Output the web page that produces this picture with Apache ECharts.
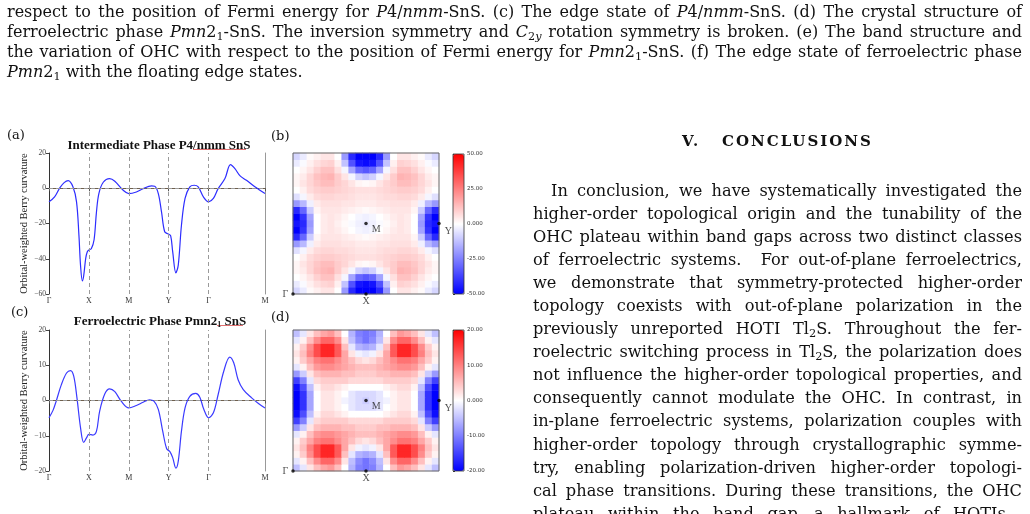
<!DOCTYPE html>
<html>
<head>
<meta charset="utf-8">
<script src="https://cdn.jsdelivr.net/npm/echarts@6/dist/echarts.min.js"></script>
<style>
body{margin:0;background:#fff;}
#page{position:relative;width:1030px;height:514px;overflow:hidden;}
#fig{position:absolute;left:0;top:0;width:1030px;height:514px;}
.cap{position:absolute;left:7px;top:2px;width:1015px;font-family:'DejaVu Serif';font-size:16px;line-height:20px;color:#111;}
.col{position:absolute;left:533px;top:178.5px;width:489px;font-family:'DejaVu Serif';font-size:16.2px;line-height:23.1px;color:#111;}
.cap div,.col div{white-space:nowrap;text-align:justify;text-align-last:justify;}
.cap div.last{text-align-last:left;}
.head{position:absolute;left:533px;top:131px;width:489px;text-align:center;font-family:'DejaVu Serif';font-weight:bold;font-size:15px;letter-spacing:2px;line-height:20px;color:#111;}
sub{font-size:70%;line-height:0;vertical-align:-0.25em;}
</style>
</head>
<body>
<div id="page">
  <div id="fig"></div>
  <div class="cap">
    <div>respect to the position of Fermi energy for <i>P</i>4/<i>nmm</i>-SnS. (c) The edge state of <i>P</i>4/<i>nmm</i>-SnS. (d) The crystal structure of</div>
    <div>ferroelectric phase <i>Pmn</i>2<sub>1</sub>-SnS. The inversion symmetry and <i>C</i><sub>2<i>y</i></sub> rotation symmetry is broken. (e) The band structure and</div>
    <div>the variation of OHC with respect to the position of Fermi energy for <i>Pmn</i>2<sub>1</sub>-SnS. (f) The edge state of ferroelectric phase</div>
    <div class="last"><i>Pmn</i>2<sub>1</sub> with the floating edge states.</div>
  </div>
  <div class="head">V.&nbsp;&nbsp;&nbsp;CONCLUSIONS</div>
  <div class="col">
    <div style="padding-left:18px">In conclusion, we have systematically investigated the</div>
    <div>higher-order topological origin and the tunability of the</div>
    <div>OHC plateau within band gaps across two distinct classes</div>
    <div>of ferroelectric systems.&nbsp; For out-of-plane ferroelectrics,</div>
    <div>we demonstrate that symmetry-protected higher-order</div>
    <div>topology coexists with out-of-plane polarization in the</div>
    <div>previously unreported HOTI Tl<sub>2</sub>S. Throughout the fer-</div>
    <div>roelectric switching process in Tl<sub>2</sub>S, the polarization does</div>
    <div>not influence the higher-order topological properties, and</div>
    <div>consequently cannot modulate the OHC. In contrast, in</div>
    <div>in-plane ferroelectric systems, polarization couples with</div>
    <div>higher-order topology through crystallographic symme-</div>
    <div>try, enabling polarization-driven higher-order topologi-</div>
    <div>cal phase transitions. During these transitions, the OHC</div>
    <div>plateau within the band gap—a hallmark of HOTIs—</div>
  </div>
</div>
<script>
// k-path: Γ-X-M-Y-Γ-M
const kLabels = ['Γ', 'X', 'M', 'Y', 'Γ', 'M'];
const kPos = [0, 1, 2, 3, 4, 5.414];

// (a) Intermediate phase P4/nmm
const kA = [0, 0.14, 0.27, 0.38, 0.48, 0.6, 0.69, 0.75, 0.79, 0.837, 0.87, 0.92, 0.96, 1.0, 1.06, 1.13, 1.19, 1.25, 1.36, 1.52, 1.65, 1.86, 2.0, 2.19, 2.36, 2.57, 2.65, 2.74, 2.82, 2.9, 2.99, 3.05, 3.1, 3.18, 3.24, 3.32, 3.41, 3.53, 3.64, 3.74, 3.87, 4.0, 4.12, 4.24, 4.41, 4.55, 4.66, 4.79, 4.95, 5.16, 5.414];
const bcA = [-7.7, -4.9, 0.2, 3.2, 4.3, 0.8, -7.7, -26.6, -43.6, -52.6, -49.6, -39.8, -36, -35, -34.3, -29.2, -13.4, -3, 3.4, 5.5, 4, -1.1, -3, -2.1, -0.2, 1.3, 1.1, -3, -13.4, -24.7, -26, -27, -36, -48, -43.6, -21, -5.8, 0.8, 1.7, 0.8, -4.9, -7.7, -5.8, -0.2, 5.5, 13.4, 11.1, 7, 4.5, 0.8, -3];

// (c) Ferroelectric phase Pmn2_1
const kC = [0, 0.1, 0.18, 0.31, 0.44, 0.54, 0.62, 0.70, 0.79, 0.87, 0.94, 1.0, 1.1, 1.19, 1.27, 1.4, 1.52, 1.65, 1.81, 2.0, 2.19, 2.36, 2.52, 2.63, 2.74, 2.85, 2.95, 3.03, 3.1, 3.18, 3.24, 3.32, 3.41, 3.53, 3.68, 3.78, 3.88, 4.0, 4.12, 4.24, 4.38, 4.53, 4.63, 4.74, 4.87, 5.08, 5.25, 5.414];
const bcC = [-4.9, -2.8, -0.2, 4.5, 7.8, 8.5, 6.9, 0.8, -7.7, -11.9, -10.6, -9.6, -9.8, -8.7, -3, 1.9, 3.3, 2.5, -0.2, -2.1, -1.4, -0.5, 0.2, -0.2, -2.5, -8.7, -13.7, -14.5, -16.2, -19.2, -17.2, -8.7, -2.1, 1.2, 2.0, 0.9, -2.5, -4.9, -3.5, 1.7, 8.3, 12.3, 10.7, 5.9, 3.1, 0.75, -0.85, -2.1];

// (b) Berry curvature map, rows bottom (Γ-X edge) to top
const fieldB = [
  [-8,-4,1,3,5,5,0,-20,-42,-50,-50,-50,-42,-20,0,5,5,3,1,-4,-8],
  [-4,-1,3,6,8,9,3,-12,-34,-46,-48,-46,-34,-12,3,9,8,6,3,-1,-4],
  [0,2,5,9,12,12,6,-2,-18,-30,-33,-30,-18,-2,6,12,12,9,5,2,0],
  [2,4,8,12,14,15,10,5,-2,-9,-12,-9,-2,5,10,15,14,12,8,4,2],
  [2,5,8,11,13,13,10,8,5,2,1,2,5,8,10,13,13,11,8,5,2],
  [0,3,7,9,10,10,9,8,7,6,6,6,7,8,9,10,10,9,7,3,0],
  [-6,-2,4,7,8,8,7,7,6,5,5,5,6,7,7,8,8,7,4,-2,-6],
  [-20,-14,-3,4,6,6,6,5,5,4,4,4,5,5,6,6,6,4,-3,-14,-20],
  [-42,-30,-10,2,5,5,5,4,3,2,1,2,3,4,5,5,5,2,-10,-30,-42],
  [-50,-40,-18,0,4,5,4,2,0,-2,-3,-2,0,2,4,5,4,0,-18,-40,-50],
  [-46,-42,-20,0,4,5,3,1,-1,-3,-4,-3,-1,1,3,5,4,0,-20,-42,-46],
  [-50,-40,-18,0,4,5,4,2,0,-2,-3,-2,0,2,4,5,4,0,-18,-40,-50],
  [-42,-30,-10,2,5,5,5,4,3,2,1,2,3,4,5,5,5,2,-10,-30,-42],
  [-20,-14,-3,4,6,6,6,5,5,4,4,4,5,5,6,6,6,4,-3,-14,-20],
  [-6,-2,4,7,8,8,7,7,6,5,5,5,6,7,7,8,8,7,4,-2,-6],
  [0,3,7,9,10,10,9,8,7,6,6,6,7,8,9,10,10,9,7,3,0],
  [2,5,8,11,13,13,10,8,5,2,1,2,5,8,10,13,13,11,8,5,2],
  [2,4,8,12,14,15,10,5,-2,-9,-12,-9,-2,5,10,15,14,12,8,4,2],
  [0,2,5,9,12,12,6,-2,-18,-30,-33,-30,-18,-2,6,12,12,9,5,2,0],
  [-4,-1,3,6,8,9,3,-12,-34,-46,-48,-46,-34,-12,3,9,8,6,3,-1,-4],
  [-8,-4,1,3,5,5,0,-20,-42,-50,-50,-50,-42,-20,0,5,5,3,1,-4,-8]
];

// (d) Berry curvature map, ferroelectric phase
const fieldD = [
  [-5,-2,2,5,7,8,5,0,-6,-10,-11,-10,-6,0,5,8,7,5,2,-2,-5],
  [-2,1,5,9,12,12,9,2,-5,-9,-11,-9,-5,2,9,12,12,9,5,1,-2],
  [1,4,9,14,17,17,13,5,-2,-6,-7,-6,-2,5,13,17,17,14,9,4,1],
  [2,5,10,14,17,17,13,7,2,-1,-2,-1,2,7,13,17,17,14,10,5,2],
  [1,4,7,10,11,11,9,7,5,3,2,3,5,7,9,11,11,10,7,4,1],
  [-2,1,5,8,9,9,8,7,6,5,5,5,6,7,8,9,9,8,5,1,-2],
  [-8,-4,2,5,6,6,6,5,5,4,4,4,5,5,6,6,6,5,2,-4,-8],
  [-15,-10,-2,3,4,4,4,4,3,3,3,3,3,4,4,4,4,3,-2,-10,-15],
  [-19,-14,-5,1,3,3,2,1,0,0,0,0,0,1,2,3,3,1,-5,-14,-19],
  [-20,-16,-7,0,2,2,1,0,-2,-3,-3,-3,-2,0,1,2,2,0,-7,-16,-20],
  [-20,-16,-7,0,2,2,1,-1,-2,-3,-4,-3,-2,-1,1,2,2,0,-7,-16,-20],
  [-20,-16,-7,0,2,2,1,0,-2,-3,-3,-3,-2,0,1,2,2,0,-7,-16,-20],
  [-19,-14,-5,1,3,3,2,1,0,0,0,0,0,1,2,3,3,1,-5,-14,-19],
  [-15,-10,-2,3,4,4,4,4,3,3,3,3,3,4,4,4,4,3,-2,-10,-15],
  [-8,-4,2,5,6,6,6,5,5,4,4,4,5,5,6,6,6,5,2,-4,-8],
  [-2,1,5,8,9,9,8,7,6,5,5,5,6,7,8,9,9,8,5,1,-2],
  [1,4,7,10,11,11,9,7,5,3,2,3,5,7,9,11,11,10,7,4,1],
  [2,5,10,14,17,17,13,7,2,-1,-2,-1,2,7,13,17,17,14,10,5,2],
  [1,4,9,14,17,17,13,5,-2,-6,-7,-6,-2,5,13,17,17,14,9,4,1],
  [-2,1,5,9,12,12,9,2,-5,-9,-11,-9,-5,2,9,12,12,9,5,1,-2],
  [-5,-2,2,5,7,8,5,0,-6,-10,-11,-10,-6,0,5,8,7,5,2,-2,-5]
];

// high-symmetry points on the maps (fractions of the box)
const hsNames = ['Γ', 'X', 'M', 'Y'];
const hsPts = [[0, 0], [0.5, 0], [0.5, 0.5], [1, 0.5]];

const cbTicksB = [-50, -25, 0, 25, 50];
const cbTicksD = [-20, -10, 0, 10, 20];

const serif = 'Liberation Serif';
const bwr = ['#0000ff', '#ffffff', '#ff0000'];
const minus = v => String(v).replace('-', '\u2212');
const cbFmt = v => v === 0 ? '0.000' : v.toFixed(2);

const hsLabel = [
  {position: 'left', distance: 3},
  {position: 'bottom', distance: 1},
  {position: 'right', distance: 4, offset: [0, 6]},
  {position: 'right', distance: 4, offset: [0, 8]}
];

function lineAxes(g, ymin, ymax, step) {
  return {
    x: {
      gridIndex: g, type: 'value', min: 0, max: kPos[5],
      axisLine: {lineStyle: {color: '#6f604d', width: 1}},
      axisTick: {customValues: kPos, length: 3, lineStyle: {color: '#555'}},
      axisLabel: {customValues: kPos, fontFamily: serif, fontSize: 8, color: '#333', margin: 3,
        formatter: v => kLabels[kPos.findIndex(p => Math.abs(p - v) < 1e-6)]},
      splitLine: {show: false}
    },
    y: [{
      gridIndex: g, type: 'value', min: ymin, max: ymax, interval: step,
      name: 'Orbital-weighted Berry curvature', nameLocation: 'middle', nameGap: 19, nameRotate: 90,
      nameMoveOverlap: false,
      nameTextStyle: {fontFamily: serif, fontSize: 10.5, color: '#222'},
      axisLine: {show: true, lineStyle: {color: '#333'}},
      axisTick: {show: true, length: 3, lineStyle: {color: '#444'}},
      axisLabel: {fontFamily: serif, fontSize: 7.5, color: '#444', margin: 3, formatter: minus},
      splitLine: {show: false}
    }, {
      gridIndex: g, type: 'value', min: ymin, max: ymax, position: 'right',
      axisLine: {show: true, lineStyle: {color: '#999'}},
      axisTick: {show: false}, axisLabel: {show: false}, splitLine: {show: false}
    }]
  };
}

const axA = lineAxes(0, -60, 20, 20);
const axC = lineAxes(1, -20, 20, 10);
const idx = fieldB[0].map((_, i) => i);

function heatData(field) {
  const out = [];
  field.forEach((row, j) => row.forEach((v, i) => out.push([i, j, v])));
  return out;
}

const dashLines = {
  silent: true, symbol: 'none', animation: false,
  label: {show: false},
  lineStyle: {type: [4, 3], color: '#9a9a9a', width: 1},
  data: [{xAxis: kPos[1]}, {xAxis: kPos[2]}, {xAxis: kPos[3]}, {xAxis: kPos[4]}, {yAxis: 0}]
};

const grids = [
  {left: 49, top: 153, width: 216, height: 141},   // 0 line a
  {left: 49, top: 330, width: 216, height: 141},   // 1 line c
  {left: 293, top: 153, width: 146, height: 141},  // 2 heat b
  {left: 293, top: 153, width: 146, height: 141, show: true, borderColor: '#666', borderWidth: 1, z: 3, backgroundColor: 'transparent'}, // 3 frame b
  {left: 453, top: 154, width: 11, height: 140, show: true, borderColor: '#333', borderWidth: 0.8, z: 5, backgroundColor: 'transparent'}, // 4 cbar b
  {left: 293, top: 330, width: 146, height: 141},  // 5 heat d
  {left: 293, top: 330, width: 146, height: 141, show: true, borderColor: '#666', borderWidth: 1, z: 3, backgroundColor: 'transparent'}, // 6 frame d
  {left: 453, top: 330, width: 11, height: 141, show: true, borderColor: '#333', borderWidth: 0.8, z: 5, backgroundColor: 'transparent'}  // 7 cbar d
].map(g => Object.assign({outerBoundsMode: 'none', containLabel: false}, g));

function cbAxis(g, ticks) {
  return {
    gridIndex: g, type: 'value', position: 'right', min: ticks[0], max: ticks[4],
    interval: ticks[1] - ticks[0],
    axisLine: {show: false},
    axisTick: {show: true, length: 2, lineStyle: {color: '#333'}},
    axisLabel: {fontSize: 5.5, color: '#333', margin: 3, fontFamily: 'DejaVu Sans', formatter: cbFmt},
    splitLine: {show: false}
  };
}

const xAxes = [
  axA.x, axC.x,
  {gridIndex: 2, type: 'category', data: idx, show: false},
  {gridIndex: 3, type: 'value', min: 0, max: 1, show: false},
  {gridIndex: 4, type: 'value', show: false},
  {gridIndex: 5, type: 'category', data: idx, show: false},
  {gridIndex: 6, type: 'value', min: 0, max: 1, show: false},
  {gridIndex: 7, type: 'value', show: false}
];
const yAxes = [
  axA.y[0], axA.y[1], axC.y[0], axC.y[1],
  {gridIndex: 2, type: 'category', data: idx, show: false},          // 4
  {gridIndex: 3, type: 'value', min: 0, max: 1, show: false},        // 5
  cbAxis(4, cbTicksB),                                                // 6
  {gridIndex: 5, type: 'category', data: idx, show: false},          // 7
  {gridIndex: 6, type: 'value', min: 0, max: 1, show: false},        // 8
  cbAxis(7, cbTicksD)                                                 // 9
];

function hsSeries(xi, yi) {
  return {
    type: 'scatter', xAxisIndex: xi, yAxisIndex: yi, clip: false, z: 10,
    symbolSize: 3.5, itemStyle: {color: '#000'},
    data: hsPts.map((p, i) => ({
      value: p, name: hsNames[i],
      label: Object.assign({show: true, formatter: '{b}', fontFamily: serif, fontSize: 10, color: '#222'}, hsLabel[i])
    }))
  };
}

const titleRich = {
  sub: {fontFamily: serif, fontSize: 8, fontWeight: 'bold', color: '#111', padding: [6, 0, 0, 0]}
};
const panelFont = '13px "DejaVu Serif"';

const option = {
  animation: false,
  title: [
    {text: 'Intermediate Phase P4/nmm SnS', left: 154, top: 134, textAlign: 'center',
      textStyle: {fontFamily: serif, fontSize: 13, fontWeight: 'bold', color: '#111'}},
    {text: 'Ferroelectric Phase Pmn2{sub|1} SnS', left: 155, top: 310, textAlign: 'center',
      textStyle: {fontFamily: serif, fontSize: 13, fontWeight: 'bold', color: '#111', rich: titleRich}}
  ],
  grid: grids,
  xAxis: xAxes,
  yAxis: yAxes,
  visualMap: [
    {type: 'continuous', min: -50, max: 50, seriesIndex: 2, inRange: {color: bwr},
      calculable: false, left: 453, top: 154, itemWidth: 11, itemHeight: 140, padding: 0, text: null},
    {type: 'continuous', min: -20, max: 20, seriesIndex: 4, inRange: {color: bwr},
      calculable: false, left: 453, top: 330, itemWidth: 11, itemHeight: 141, padding: 0, text: null}
  ],
  graphic: [
    {type: 'text', left: 7, top: 129, style: {text: '(a)', font: panelFont, fill: '#111'}},
    {type: 'text', left: 271, top: 130, style: {text: '(b)', font: panelFont, fill: '#111'}},
    {type: 'text', left: 11, top: 306, style: {text: '(c)', font: panelFont, fill: '#111'}},
    {type: 'text', left: 271, top: 311, style: {text: '(d)', font: panelFont, fill: '#111'}},
    {type: 'line', shape: {x1: 193, y1: 149.5, x2: 246, y2: 149.5}, style: {stroke: '#e07070', lineWidth: 1}},
    {type: 'line', shape: {x1: 217, y1: 325.5, x2: 243, y2: 325.5}, style: {stroke: '#e07070', lineWidth: 1}}
  ],
  series: [
    {type: 'line', xAxisIndex: 0, yAxisIndex: 0, data: kA.map((k, i) => [k, bcA[i]]),
      smooth: 0.35, showSymbol: false, lineStyle: {color: '#2d2dff', width: 1.2}, markLine: dashLines},
    {type: 'line', xAxisIndex: 1, yAxisIndex: 2, data: kC.map((k, i) => [k, bcC[i]]),
      smooth: 0.35, showSymbol: false, lineStyle: {color: '#3a3aff', width: 1.2}, markLine: dashLines},
    {type: 'heatmap', xAxisIndex: 2, yAxisIndex: 4, data: heatData(fieldB), progressive: 0, emphasis: {disabled: true}},
    hsSeries(3, 5),
    {type: 'heatmap', xAxisIndex: 5, yAxisIndex: 7, data: heatData(fieldD), progressive: 0, emphasis: {disabled: true}},
    hsSeries(6, 8),
    {type: 'scatter', xAxisIndex: 4, yAxisIndex: 6, data: []},
    {type: 'scatter', xAxisIndex: 7, yAxisIndex: 9, data: []}
  ]
};

const chart = echarts.init(document.getElementById('fig'));
chart.setOption(option);
</script>
</body>
</html>
